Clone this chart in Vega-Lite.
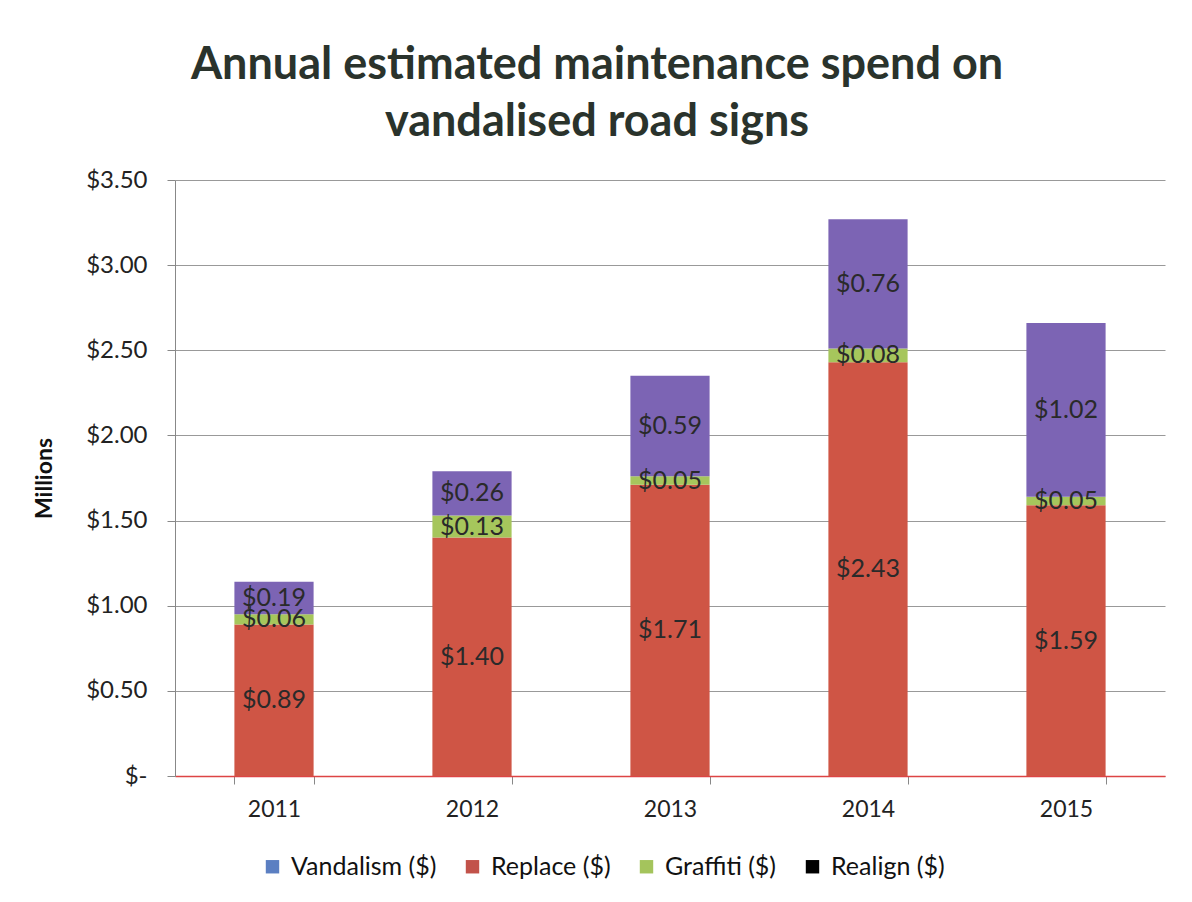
{
  "$schema": "https://vega.github.io/schema/vega-lite/v6.json",
  "width": 990,
  "height": 596,
  "autosize": {"type": "none"},
  "padding": {"left": 175, "top": 180, "right": 27, "bottom": 126},
  "background": "white",
  "title": {
    "text": ["Annual estimated maintenance spend on", "vandalised road signs"],
    "font": "Lato",
    "fontSize": 45,
    "fontWeight": "bold",
    "color": "#2a332c",
    "anchor": "middle",
    "dx": -73,
    "offset": 23,
    "lineHeight": 57
  },
  "config": {
    "view": {"stroke": null},
    "font": "Lato"
  },
  "resolve": {"scale": {"color": "independent", "fill": "independent"}, "legend": {"color": "independent", "fill": "independent"}},
  "data": {
    "values": [
      {"year": "2011", "series": "Realign ($)", "ord": 0, "value": 0},
      {"year": "2011", "series": "Replace ($)", "ord": 1, "value": 0.89},
      {"year": "2011", "series": "Graffiti ($)", "ord": 2, "value": 0.06},
      {"year": "2011", "series": "Vandalism ($)", "ord": 3, "value": 0.19},
      {"year": "2012", "series": "Realign ($)", "ord": 0, "value": 0},
      {"year": "2012", "series": "Replace ($)", "ord": 1, "value": 1.40},
      {"year": "2012", "series": "Graffiti ($)", "ord": 2, "value": 0.13},
      {"year": "2012", "series": "Vandalism ($)", "ord": 3, "value": 0.26},
      {"year": "2013", "series": "Realign ($)", "ord": 0, "value": 0},
      {"year": "2013", "series": "Replace ($)", "ord": 1, "value": 1.71},
      {"year": "2013", "series": "Graffiti ($)", "ord": 2, "value": 0.05},
      {"year": "2013", "series": "Vandalism ($)", "ord": 3, "value": 0.59},
      {"year": "2014", "series": "Realign ($)", "ord": 0, "value": 0},
      {"year": "2014", "series": "Replace ($)", "ord": 1, "value": 2.43},
      {"year": "2014", "series": "Graffiti ($)", "ord": 2, "value": 0.08},
      {"year": "2014", "series": "Vandalism ($)", "ord": 3, "value": 0.76},
      {"year": "2015", "series": "Realign ($)", "ord": 0, "value": 0},
      {"year": "2015", "series": "Replace ($)", "ord": 1, "value": 1.59},
      {"year": "2015", "series": "Graffiti ($)", "ord": 2, "value": 0.05},
      {"year": "2015", "series": "Vandalism ($)", "ord": 3, "value": 1.02}
    ]
  },
  "encoding": {
    "x": {
      "field": "year",
      "type": "nominal",
      "scale": {"paddingInner": 0.6, "paddingOuter": 0.3},
      "axis": {
        "title": null,
        "labelAngle": 0,
        "labelFontSize": 23,
        "labelColor": "#222",
        "labelPadding": 14,
        "tickBand": "extent",
        "tickSize": 8,
        "tickColor": "#888",
        "domainColor": "#d44",
        "domainWidth": 1.5
      }
    },
    "y": {
      "field": "value",
      "type": "quantitative",
      "stack": "zero",
      "scale": {"domain": [0, 3.5], "nice": false},
      "axis": {
        "title": "Millions",
        "titleFontSize": 23,
        "titleFontWeight": "bold",
        "titleColor": "#111",
        "titlePadding": 29,
        "values": [0, 0.5, 1, 1.5, 2, 2.5, 3, 3.5],
        "labelExpr": "datum.value == 0 ? '$-' : '$' + format(datum.value, '.2f')",
        "labelFontSize": 24,
        "labelColor": "#222",
        "labelPadding": 20,
        "tickSize": 8,
        "tickColor": "#888",
        "domainColor": "#888",
        "gridColor": "#999",
        "gridWidth": 1
      }
    },
    "order": {"field": "ord", "type": "quantitative"}
  },
  "layer": [
    {
      "mark": {"type": "bar", "strokeWidth": 0},
      "encoding": {
        "fill": {
          "field": "series",
          "type": "nominal",
          "scale": {
            "domain": ["Vandalism ($)", "Replace ($)", "Graffiti ($)", "Realign ($)"],
            "range": ["#7c64b4", "#cf5545", "#a6c65c", "#000000"]
          },
          "legend": null
        }
      }
    },
    {
      "mark": {"type": "square", "size": 0, "filled": true},
      "encoding": {
        "color": {
          "field": "series",
          "type": "nominal",
          "scale": {
            "domain": ["Vandalism ($)", "Replace ($)", "Graffiti ($)", "Realign ($)"],
            "range": ["#5b7fc2", "#c2524a", "#a4c45c", "#000000"]
          },
          "legend": {
            "title": null,
            "orient": "none",
            "legendX": 85,
            "legendY": 674,
            "direction": "horizontal",
            "symbolType": "square",
            "symbolSize": 180,
            "symbolStrokeWidth": 0,
            "symbolOpacity": 1,
            "labelFontSize": 25,
            "labelColor": "#111",
            "columnPadding": 23,
            "labelOffset": 6
          }
        }
      }
    },
    {
      "transform": [{"filter": "datum.series != 'Realign ($)'"}],
      "mark": {"type": "text", "fontSize": 25, "color": "#2a2a2a", "baseline": "middle"},
      "encoding": {
        "y": {"field": "value", "type": "quantitative", "stack": "zero", "bandPosition": 0.5},
        "detail": {"field": "series"},
        "text": {"field": "value", "type": "quantitative", "format": "$.2f"}
      }
    }
  ]
}
